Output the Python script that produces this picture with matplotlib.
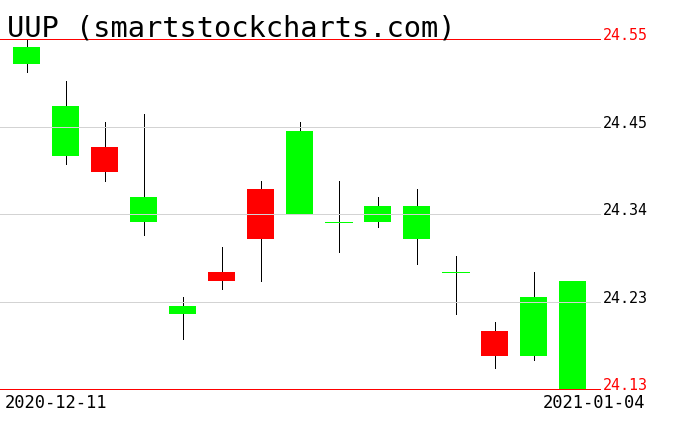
import matplotlib
matplotlib.use("Agg")
import matplotlib.pyplot as plt
import numpy as np

# daily OHLC, 2020-12-11 .. 2021-01-04
opens  = [24.52, 24.41, 24.42, 24.33, 24.22, 24.27, 24.37, 24.34, 24.33, 24.33, 24.31, 24.27, 24.20, 24.17, 24.13]
highs  = [24.55, 24.50, 24.45, 24.46, 24.24, 24.30, 24.38, 24.45, 24.38, 24.36, 24.37, 24.29, 24.21, 24.27, 24.26]
lows   = [24.51, 24.40, 24.38, 24.315, 24.19, 24.25, 24.26, 24.34, 24.295, 24.325, 24.28, 24.22, 24.155, 24.165, 24.13]
closes = [24.54, 24.47, 24.39, 24.36, 24.23, 24.26, 24.31, 24.44, 24.33, 24.35, 24.35, 24.27, 24.17, 24.24, 24.26]
first_date = "2020-12-11"
last_date = "2021-01-04"
price_labels = ["24.13", "24.23", "24.34", "24.45", "24.55"]
title = "UUP (smartstockcharts.com)"

W, H = 676, 431
fig = plt.figure(figsize=(W / 100, H / 100), dpi=100)
ax = fig.add_axes([0, 41 / H, 600 / W, 350 / H])
ax.set_axis_off()

lo, hi = min(lows), max(highs)
ax.set_ylim(lo, hi)
ax.set_xlim(-0.685, 14.7)

x = np.arange(len(opens))
o = np.array(opens)
c = np.array(closes)
px = 0.72  # one pixel at 100 dpi

ax.vlines(x, lows, highs, color="black", lw=px, zorder=2, antialiased=False, clip_on=False)
up = c > o
down = c < o
flat = c == o
bw = 0.69
ax.bar(x[up], (c - o)[up], bottom=o[up], width=bw, color="#00ff00", zorder=3, antialiased=False)
ax.bar(x[down], (o - c)[down], bottom=c[down], width=bw, color="#ff0000", zorder=3, antialiased=False)
ax.hlines(o[flat], x[flat] - bw / 2, x[flat] + bw / 2, color="#00ff00", lw=px, zorder=3, antialiased=False)

levels = np.linspace(lo, hi, 5)
for i, (lv, lab) in enumerate(zip(levels, price_labels)):
    edge = i in (0, len(levels) - 1)
    col = "red" if edge else "#d3d3d3"
    ax.axhline(lv, color=col, lw=px, zorder=4 if edge else 3.5, antialiased=False, clip_on=False)
    ax.text(1.005, lv, lab, transform=ax.get_yaxis_transform(), color="red" if edge else "black",
            fontsize=10.8, family="DejaVu Sans Mono", va="baseline", ha="left", clip_on=False)

fig.text(5 / W, 1 - 394 / H, first_date, fontsize=12.3, family="DejaVu Sans Mono", va="top", ha="left")
fig.text(645 / W, 1 - 394 / H, last_date, fontsize=12.3, family="DejaVu Sans Mono", va="top", ha="right")
fig.text(7 / W, 1 - 37 / H, title, fontsize=20.7, family="DejaVu Sans Mono", va="baseline", ha="left")

fig.savefig("out.png", dpi=100)
